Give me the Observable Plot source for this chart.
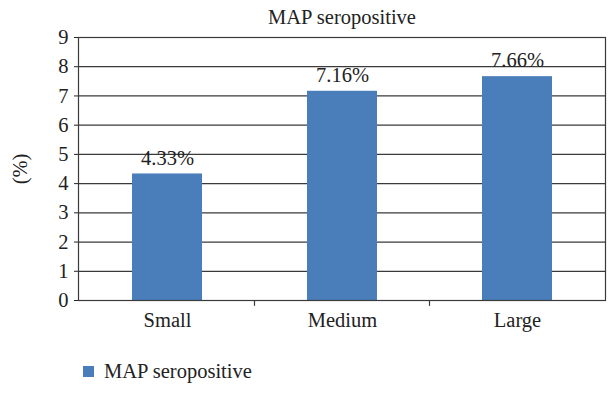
<!DOCTYPE html>
<html>
<head>
<meta charset="utf-8">
<script src="https://cdn.jsdelivr.net/npm/d3@7"></script>
<script src="https://cdn.jsdelivr.net/npm/@observablehq/plot@0.6"></script>
<style>
  body { margin: 0; background: #fff; font-family: "Liberation Serif", "DejaVu Serif", serif; }
  #title { width: 608px; height: 26px; box-sizing: border-box; padding-left: 76px; text-align: center; font-size: 20.5px; line-height: 34px; color: #222; }
  #legend { height: 62px; display: flex; align-items: center; padding-left: 83px; font-size: 20.5px; color: #222; }
  #legend .sw { width: 11px; height: 11px; background: #4a7ebb; margin-right: 10px; }
</style>
</head>
<body>
<div id="title">MAP seropositive</div>
<div id="chart"></div>
<div id="legend"><div class="sw"></div><span>MAP seropositive</span></div>
<script>
const categories = ["Small", "Medium", "Large"];
const values = [4.33, 7.16, 7.66];
const labels = ["4.33%", "7.16%", "7.66%"];
const yTicks = [0, 1, 2, 3, 4, 5, 6, 7, 8, 9];

const data = categories.map((c, i) => ({cat: c, v: values[i], label: labels[i]}));

const chart = Plot.plot({
  width: 608,
  height: 314,
  marginLeft: 78,
  marginRight: 3,
  marginTop: 11,
  marginBottom: 40,
  style: {fontFamily: "'Liberation Serif', 'DejaVu Serif', serif", fontSize: "20.5px", color: "#222", background: "#fff", overflow: "visible"},
  x: {domain: categories, paddingInner: 0.6, paddingOuter: 0.3, label: null, tickSize: 0, tickPadding: 12},
  y: {domain: [0, 9], ticks: yTicks, label: "(%)", labelAnchor: "center", labelArrow: "none", labelOffset: 66, tickSize: 4, tickPadding: 6},
  marks: [
    Plot.ruleY(yTicks, {stroke: "#3a3a3a", strokeWidth: 1.2}),
    Plot.barY(data, {x: "cat", y: "v", fill: "#4a7ebb"}),
    Plot.text(data, {x: "cat", y: "v", text: "label", dy: -16, fontSize: 20.5, fill: "#222"}),
    Plot.ruleX(categories.slice(1), {x: d => d, dx: -88, y1: 0, y2: -0.2, stroke: "#3a3a3a", strokeWidth: 1.2}),
    Plot.frame({stroke: "#3a3a3a", strokeWidth: 1.2})
  ]
});
document.getElementById("chart").appendChild(chart);
</script>
</body>
</html>
